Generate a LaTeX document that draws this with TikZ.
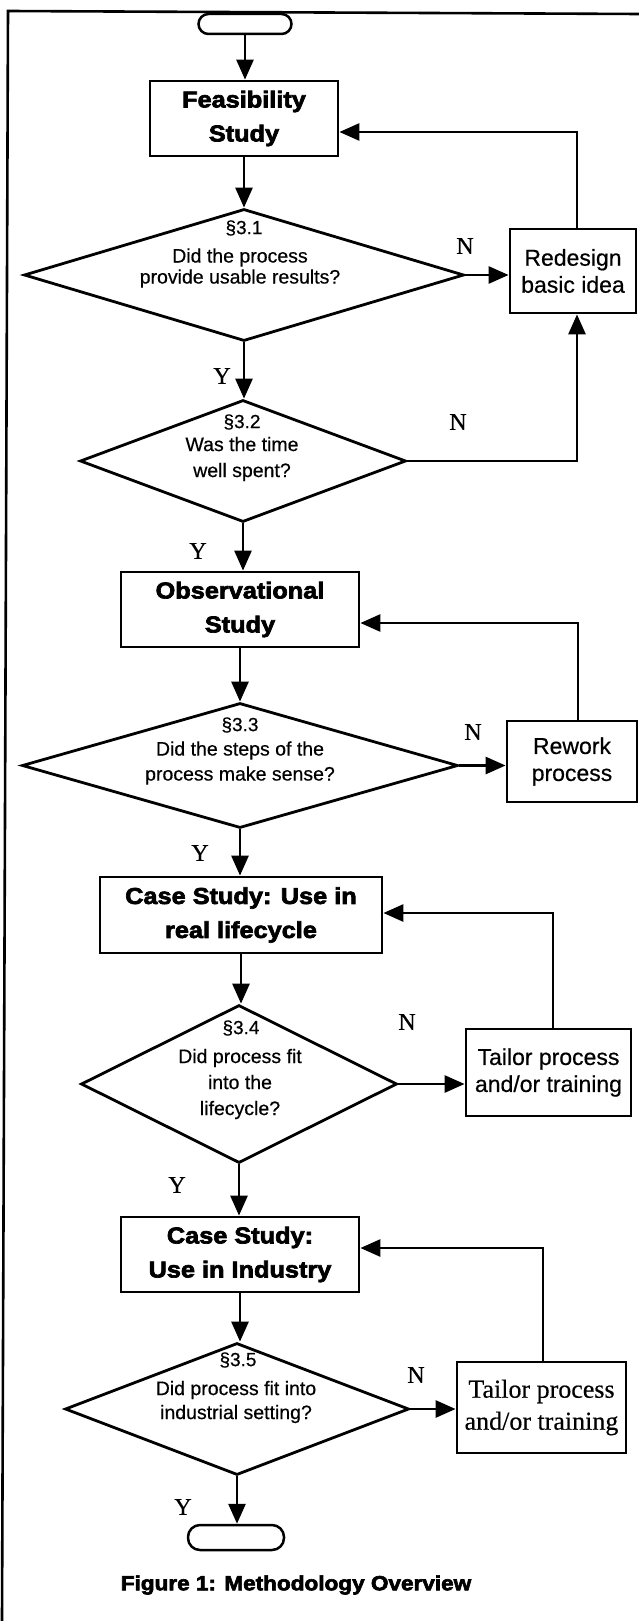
\documentclass[tikz,border=0pt]{standalone}
\usepackage{fontspec}
\setmainfont{Liberation Sans}[FakeBold=0.5]
\newfontfamily\heavyfont{Liberation Sans}[FakeStretch=1.1,BoldFeatures={FakeBold=3}]
\newfontfamily\seriffont{Liberation Serif}[FakeBold=0.4]
\usetikzlibrary{shapes.geometric,arrows.meta}
\begin{document}
\begin{tikzpicture}[x=1pt,y=-1pt,
  ln/.style={line width=2.8pt},
  arr/.style={line width=2.8pt,-{Triangle[length=20pt,width=17pt]}},
  box/.style={draw,line width=2.8pt,rectangle,inner sep=0pt,align=center},
  titlebox/.style={box,font=\heavyfont\bfseries\fontsize{23}{34}\selectfont},
  sidebox/.style={box,font=\fontsize{23}{27}\selectfont},
  serifbox/.style={box,font=\seriffont\fontsize{26}{32}\selectfont},
  dia/.style={draw,diamond,line width=2.8pt,inner sep=0pt},
  term/.style={draw,rectangle,rounded corners=10pt,line width=2.5pt,inner sep=0pt},
  qtext/.style={align=center,inner sep=0pt},
  yn/.style={font=\seriffont\fontsize{24}{24}\selectfont,inner sep=0pt},
  sect/.style={font=\fontsize{19}{19}\selectfont,inner sep=0pt}
]
\useasboundingbox (0,0) rectangle (639,1621);
% frame
\coordinate (ftl) at (8,11);
\coordinate (ftr) at (639,14);
\coordinate (fbl) at (2,1621);
\draw[line width=2.6pt] (ftr) -- (ftl) -- (fbl);

% main column
\node[term,minimum width=93pt,minimum height=20pt] (start) at (245,24) {};
\node[titlebox,minimum width=188pt,minimum height=75pt] (feas) at (244,118.5) {Feasibility\\Study};
\node[dia,minimum width=440pt,minimum height=132pt] (d1) at (244,275) {};
\node[sect] (s1) at (244,228) {§3.1};
\node[qtext,font=\fontsize{19.5}{21}\selectfont] (t1) at (240,268) {Did the process\\provide usable results?};
\node[sidebox,minimum width=126pt,minimum height=84pt] (red) at (573,271) {Redesign\\basic idea};

\node[dia,minimum width=326pt,minimum height=122pt] (d2) at (243,461) {};
\node[sect] (s2) at (242,422) {§3.2};
\node[qtext,font=\fontsize{19.5}{26}\selectfont] (t2) at (242,459) {Was the time\\well spent?};

\node[titlebox,minimum width=238pt,minimum height=75pt] (obs) at (240,609.5) {Observational\\Study};
\node[dia,minimum width=436pt,minimum height=125pt] (d3) at (240,765.5) {};
\node[sect] (s3) at (240,725) {§3.3};
\node[qtext,font=\fontsize{19.5}{25}\selectfont] (t3) at (240,763) {Did the steps of the\\process make sense?};
\node[sidebox,minimum width=130pt,minimum height=81pt] (rew) at (572,761.5) {Rework\\process};

\node[titlebox,minimum width=282pt,minimum height=76pt] (cs1) at (241,915) {Case Study: Use in\\real lifecycle};
\node[dia,minimum width=316pt,minimum height=158pt] (d4) at (239,1084) {};
\node[sect] (s4) at (241,1028) {§3.4};
\node[qtext,font=\fontsize{19.5}{26}\selectfont] (t4) at (240,1084) {Did process fit\\into the\\lifecycle?};
\node[sidebox,minimum width=165pt,minimum height=87pt] (tai1) at (548.5,1072.5) {Tailor process\\and/or training};

\node[titlebox,minimum width=238pt,minimum height=75pt] (cs2) at (240,1254.5) {Case Study:\\Use in Industry};
\node[dia,minimum width=344pt,minimum height=132pt] (d5) at (237,1409) {};
\node[sect] (s5) at (238,1360) {§3.5};
\node[qtext,font=\fontsize{19.5}{24}\selectfont] (t5) at (236,1402) {Did process fit into\\industrial setting?};
\node[serifbox,minimum width=169pt,minimum height=91pt] (tai2) at (541.5,1407.5) {Tailor process\\and/or training};

\node[term,minimum width=96pt,minimum height=25pt,rounded corners=12pt] (end) at (236,1537.5) {};

\node[font=\heavyfont\bfseries\fontsize{20.5}{20.5}\selectfont,inner sep=0pt] (cap) at (296,1585) {Figure 1: Methodology Overview};

% Y / N labels
\node[yn] (n1) at (465,246) {N};
\node[yn] (y1) at (222,376) {Y};
\node[yn] (n2) at (458,422) {N};
\node[yn] (y2) at (198,551) {Y};
\node[yn] (n3) at (473,732) {N};
\node[yn] (y3) at (200,853) {Y};
\node[yn] (n4) at (407,1022) {N};
\node[yn] (y4) at (177,1185) {Y};
\node[yn] (n5) at (416,1375) {N};
\node[yn] (y5) at (183,1507) {Y};

% main flow arrows
\draw[arr] (start.south) -- (start.south |- feas.north);
\draw[arr] (feas.south) -- (feas.south |- d1.north);
\draw[arr] (d1.south) -- (d1.south |- d2.north);
\draw[arr] (d2.south) -- (d2.south |- obs.north);
\draw[arr] (obs.south) -- (obs.south |- d3.north);
\draw[arr] (d3.south) -- (d3.south |- cs1.north);
\draw[arr] (cs1.south) -- (cs1.south |- d4.north);
\draw[arr] (d4.south) -- (d4.south |- cs2.north);
\draw[arr] (cs2.south) -- (cs2.south |- d5.north);
\draw[arr] (d5.south) -- (d5.south |- end.north);

% No branches
\draw[arr] (d1.east) -- (d1.east -| red.west);
\draw[arr] (d2.east) -| ([xshift=4pt]red.south);
\draw[arr] ([xshift=4pt]red.north) |- ([yshift=-13.5pt]feas.east);
\draw[arr] (d3.east) -- (d3.east -| rew.west);
\draw[arr] ([xshift=6pt]rew.north) |- ([yshift=-13.5pt]obs.east);
\draw[arr] (d4.east) -- (d4.east -| tai1.west);
\draw[arr] ([xshift=4.5pt]tai1.north) |- ([yshift=2pt]cs1.east);
\draw[arr] (d5.east) -- (d5.east -| tai2.west);
\draw[arr] ([xshift=1.5pt]tai2.north) |- ([yshift=6.5pt]cs2.east);
\end{tikzpicture}
\end{document}
